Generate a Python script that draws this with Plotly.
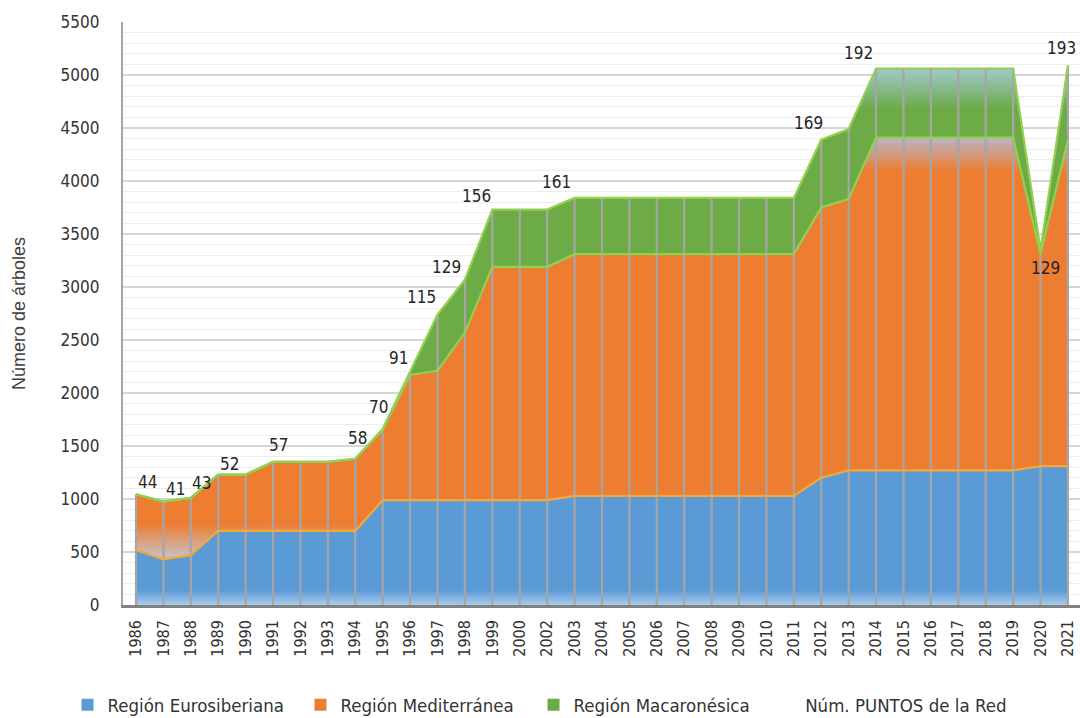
import plotly.graph_objects as go

# ---------------- data ----------------
years = ["1986", "1987", "1988", "1989", "1990", "1991", "1992", "1993", "1994",
         "1995", "1996", "1997", "1998", "1999", "2000", "2002", "2003", "2004",
         "2005", "2006", "2007", "2008", "2009", "2010", "2011", "2012", "2013",
         "2014", "2015", "2016", "2017", "2018", "2019", "2020", "2021"]

eurosiberiana = [520, 430, 470, 700, 700, 700, 700, 700, 700,
                 990, 990, 990, 990, 990, 990, 990, 1030, 1030,
                 1030, 1030, 1030, 1030, 1030, 1030, 1030, 1200, 1270,
                 1270, 1270, 1270, 1270, 1270, 1270, 1310, 1310]

mediterranea = [525, 545, 540, 530, 530, 650, 650, 650, 680,
                660, 1180, 1220, 1580, 2200, 2200, 2200, 2280, 2280,
                2280, 2280, 2280, 2280, 2280, 2280, 2280, 2550, 2560,
                3140, 3140, 3140, 3140, 3140, 3140, 2000, 3080]

macaronesica = [0, 0, 0, 0, 0, 0, 0, 0, 0,
                10, 30, 530, 500, 540, 540, 540, 530, 530,
                530, 530, 530, 530, 530, 530, 530, 640, 660,
                650, 650, 650, 650, 650, 650, 40, 700]

puntos = [44, 41, 43, 52, None, 57, None, None, 58,
          70, 91, 115, 129, 156, None, None, 161, None,
          None, None, None, None, None, None, None, 169, None,
          192, None, None, None, None, None, 129, 193]

series_names = ["Región Eurosiberiana", "Región Mediterránea", "Región Macaronésica"]
puntos_name = "Núm. PUNTOS de la Red"
y_title = "Número de árboles"
y_ticks = [0, 500, 1000, 1500, 2000, 2500, 3000, 3500, 4000, 4500, 5000, 5500]

# ---------------- styles ----------------
FONT = "DejaVu Sans Condensed, Liberation Sans Narrow, Arial Narrow, sans-serif"
C_BLUE, C_ORANGE, C_GREEN = "#5b9bd5", "#ed7d31", "#6cab46"
C_GOLD, C_LIME = "#f2a93b", "#92d050"
# label offsets (px) relative to the stacked total, per labelled year
label_shift = {"1986": (12, 12), "1987": (12, 13), "1988": (11, 15), "1989": (11, 11),
               "1991": (5, 17), "1994": (2, 21), "1995": (-4, 22), "1996": (-12, 14),
               "1997": (-16, 18), "1998": (-18, 13), "1999": (-16, 14), "2003": (-18, 16),
               "2012": (-13, 17), "2014": (-18, 16), "2020": (5, -18), "2021": (-6, 17)}

cum1 = eurosiberiana
cum2 = [a + b for a, b in zip(eurosiberiana, mediterranea)]
total = [a + b for a, b in zip(cum2, macaronesica)]

fig = go.Figure()

# stacked areas
fig.add_trace(go.Scatter(
    x=years, y=eurosiberiana, stackgroup="s", mode="lines", line=dict(width=0),
    fillgradient=dict(type="vertical", start=0, stop=200,
                      colorscale=[[0, "#a8ccee"], [0.7, C_BLUE], [1, C_BLUE]]),
    showlegend=False, hoverinfo="skip"))
fig.add_trace(go.Scatter(
    x=years, y=mediterranea, stackgroup="s", mode="lines", line=dict(width=0),
    fillgradient=dict(type="vertical", start=430, stop=4410,
                      colorscale=[[0, "#c6c5cf"], [0.085, C_ORANGE], [0.92, C_ORANGE],
                                  [1, "#bab5c6"]]),
    showlegend=False, hoverinfo="skip"))
fig.add_trace(go.Scatter(
    x=years, y=macaronesica, stackgroup="s", mode="lines", line=dict(width=0),
    fillgradient=dict(type="vertical", start=1040, stop=5090,
                      colorscale=[[0, C_GREEN], [0.9, C_GREEN], [1, "#a6cbd8"]]),
    showlegend=False, hoverinfo="skip"))

# drop lines
dx, dy = [], []
for yr, t in zip(years, total):
    dx += [yr, yr, None]
    dy += [0, t, None]
fig.add_trace(go.Scatter(x=dx, y=dy, mode="lines", line=dict(color="#a6a6a6", width=2.2),
                         showlegend=False, hoverinfo="skip"))

# outlines
fig.add_trace(go.Scatter(x=years, y=cum1, mode="lines", line=dict(color=C_GOLD, width=2.2),
                         showlegend=False, hoverinfo="skip"))
fig.add_trace(go.Scatter(x=years, y=cum2, mode="lines", line=dict(color=C_LIME, width=2.2),
                         showlegend=False, hoverinfo="skip"))
fig.add_trace(go.Scatter(x=years, y=total, mode="lines", line=dict(color=C_LIME, width=2.2),
                         showlegend=False, hoverinfo="skip"))

# legend entries
for name, col in zip(series_names, [C_BLUE, C_ORANGE, C_GREEN]):
    fig.add_trace(go.Scatter(x=[None], y=[None], mode="markers", name=name,
                             marker=dict(symbol="square", size=12, color=col)))
fig.add_trace(go.Scatter(x=[None], y=[None], mode="markers", name=puntos_name,
                         legend="legend2",
                         marker=dict(symbol="square", size=12, color="rgba(0,0,0,0)")))

# point labels (category index used as x position)
for i, (yr, p, t) in enumerate(zip(years, puntos, total)):
    if p is None:
        continue
    sx, sy = label_shift.get(yr, (0, 14))
    fig.add_annotation(x=i, y=t, xref="x", yref="y", text=str(p), showarrow=False,
                       xanchor="center", yanchor="middle", xshift=sx, yshift=sy,
                       font=dict(family=FONT, size=17, color="#262626"))

legend_font = dict(family=FONT, size=18.5, color="#333333")
fig.update_layout(
    width=1080, height=718,
    margin=dict(l=123, r=0, t=22, b=113, autoexpand=False),
    plot_bgcolor="white", paper_bgcolor="white",
    font=dict(family=FONT, color="#333333"),
    legend=dict(orientation="h", x=-0.058, xanchor="left", y=-0.172, yanchor="middle",
                font=legend_font, traceorder="normal",
                entrywidth=188, itemwidth=30, bgcolor="rgba(0,0,0,0)"),
    legend2=dict(orientation="h", x=0.671, xanchor="left", y=-0.172, yanchor="middle",
                 font=legend_font, itemwidth=30, bgcolor="rgba(0,0,0,0)"),
    showlegend=True,
)
fig.update_xaxes(
    type="category", categoryorder="array", categoryarray=years,
    range=[-0.474, 34.44], tickangle=-90, showgrid=False, automargin=False,
    tickfont=dict(family=FONT, size=16, color="#333333"),
    showline=True, linecolor="#808080", linewidth=2.5, ticks="", ticklabelstandoff=6,
)
fig.update_yaxes(
    range=[0, 5500], tickvals=y_ticks, showgrid=True, gridcolor="#d6d6d6", gridwidth=1.6,
    minor=dict(dtick=100, showgrid=True, gridcolor="#ededed", gridwidth=1.4),
    zeroline=False, showline=True, linecolor="#a6a6a6", linewidth=2.2, automargin=False,
    tickfont=dict(family=FONT, size=17, color="#333333"), ticklabelstandoff=18,
    title=dict(text=y_title, standoff=30,
               font=dict(family="Liberation Sans, Arial, sans-serif", size=18, color="#404040")),
)

fig.write_html(
    "out.html",
    config={"displayModeBar": False},
    post_script="document.body.style.margin='0';document.body.style.overflow='hidden';",
)
